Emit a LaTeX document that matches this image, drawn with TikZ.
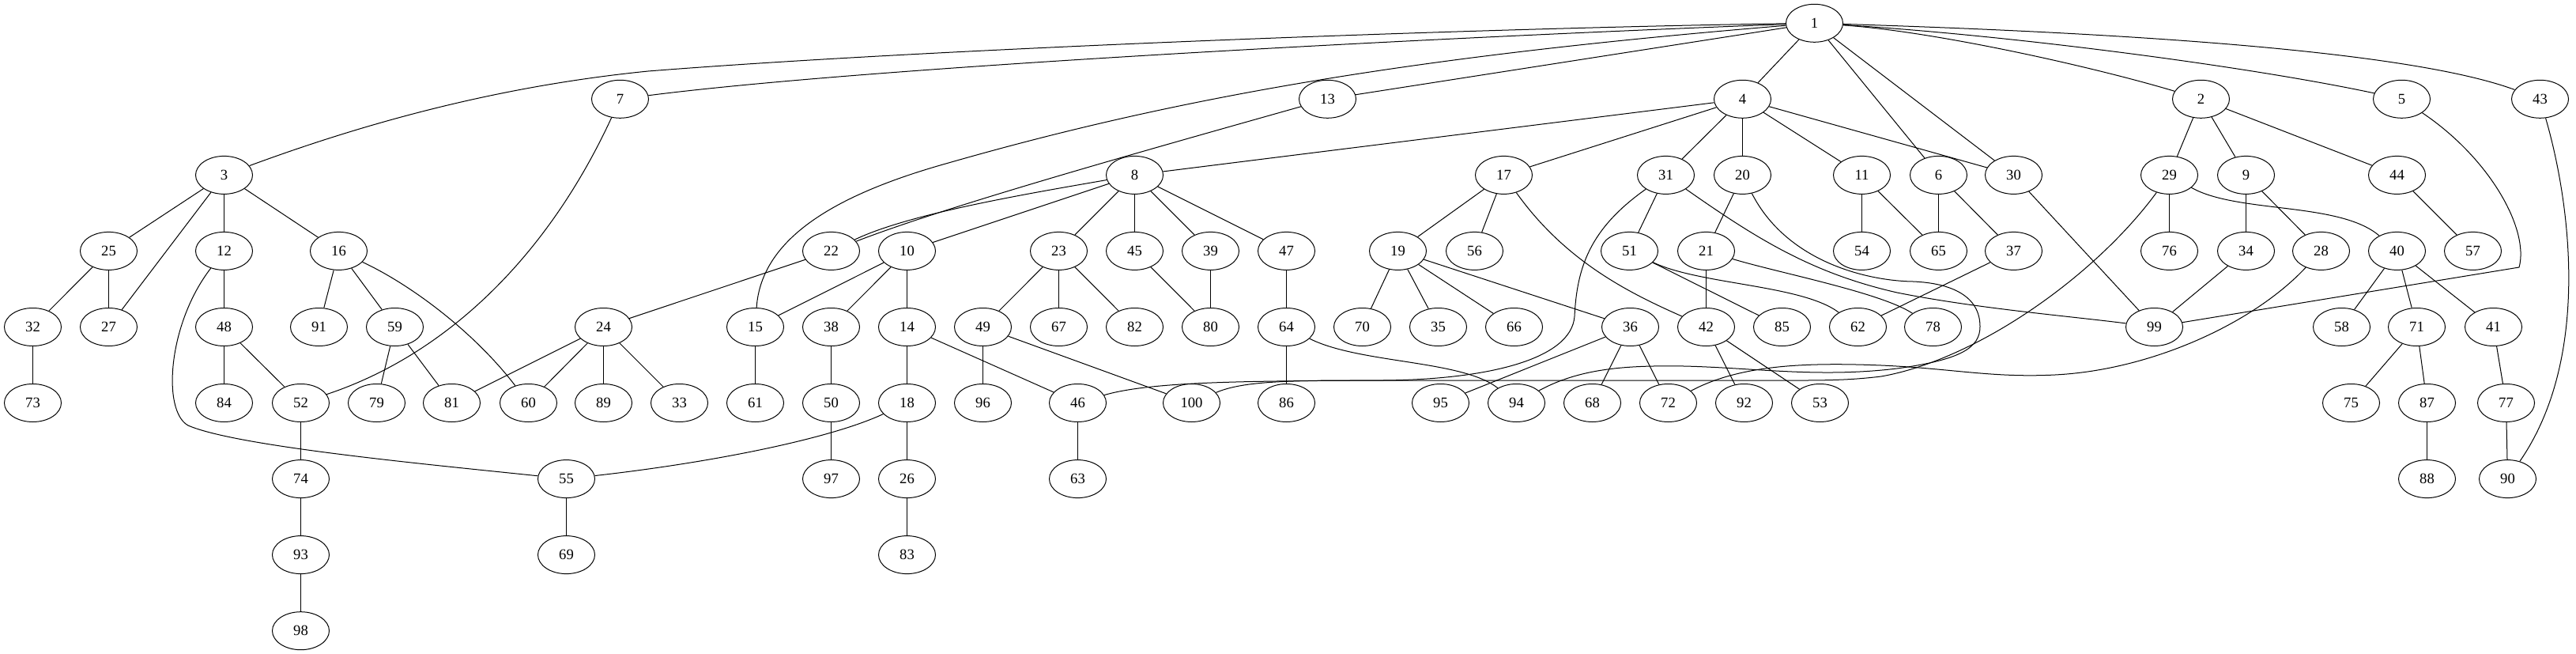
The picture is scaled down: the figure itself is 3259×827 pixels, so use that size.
\documentclass[tikz,border=0pt]{standalone}
\usepackage{fontspec}
\setmainfont{Liberation Serif}
\usetikzlibrary{shapes.geometric}
\begin{document}
\begin{tikzpicture}[x=0.75pt,y=-0.75pt,
  nd/.style={draw,ellipse,minimum width=54pt,minimum height=36pt,inner sep=0pt,font=\fontsize{14}{16}\selectfont,line width=0.75pt},
  ed/.style={line width=0.75pt}]
\useasboundingbox (0,0) rectangle (3259,827);
% rank 0
\node[nd] (n1) at (2295.5,29.3) {1};
% rank 1
\foreach \n/\x in {7/784.5,13/1679.5,4/2204.5,2/2784.5,5/3038.5,43/3213.5}
  \node[nd] (n\n) at (\x,125.3) {\n};
% rank 2
\foreach \n/\x in {3/283.5,8/1435.5,17/1902.5,31/2107.5,20/2204.5,11/2355.5,6/2452.5,30/2547.5,29/2744.5,9/2841.5,44/3032.5}
  \node[nd] (n\n) at (\x,221.4) {\n};
% rank 3
\foreach \n/\x in {25/137.5,12/283.5,16/428.5,22/1051.5,10/1147.5,23/1339.5,45/1435.5,39/1531.5,47/1627.5,19/1768.5,56/1865.5,51/2061.5,21/2158.5,54/2355.5,65/2452.5,37/2547.5,76/2744.5,34/2841.5,28/2936.5,40/3032.5,57/3128.5}
  \node[nd] (n\n) at (\x,317.4) {\n};
% rank 4
\foreach \n/\x in {32/41.5,27/137.5,48/283.5,91/403.5,59/499.5,24/763.5,15/955.5,38/1051.5,14/1147.5,49/1243.5,67/1339.5,82/1435.5,80/1531.5,64/1627.5,70/1723.5,35/1819.5,66/1915.5,36/2062.5,42/2158.5,85/2254.5,62/2350.5,78/2445.5,99/2725.5,58/2962.5,71/3057.5,41/3154.5}
  \node[nd] (n\n) at (\x,413.5) {\n};
% rank 5
\foreach \n/\x in {73/41.5,84/283.5,52/380.5,79/476.5,81/571.5,60/668.5,89/763.5,33/859.5,61/955.5,50/1051.5,18/1147.5,96/1243.5,46/1363.5,100/1507.5,86/1627.5,95/1822.5,94/1918.5,68/2014.5,72/2110.5,92/2206.5,53/2302.5,75/2974.5,87/3070.5,77/3170.5}
  \node[nd] (n\n) at (\x,509.5) {\n};
% rank 6
\foreach \n/\x in {74/380.5,55/716.5,97/1051.5,26/1147.5,63/1363.5,88/3070.5,90/3172.5}
  \node[nd] (n\n) at (\x,605.6) {\n};
% rank 7
\foreach \n/\x in {93/380.5,69/716.5,83/1147.5}
  \node[nd] (n\n) at (\x,701.6) {\n};
% rank 8
\node[nd] (n98) at (380.5,797.7) {98};

% straight edges
\foreach \a/\b in {1/4,1/6,1/30,1/13,
  3/25,3/27,3/12,3/16,25/32,25/27,12/48,16/91,16/59,32/73,48/84,48/52,59/79,59/81,
  24/81,24/60,24/89,24/33,22/24,52/74,74/93,93/98,55/69,
  4/8,4/17,4/31,4/20,4/11,4/30,
  8/10,8/23,8/45,8/39,8/47,
  10/15,10/38,10/14,23/49,23/67,23/82,45/80,39/80,
  15/61,38/50,50/97,14/18,14/46,49/96,49/100,18/26,26/83,46/63,
  47/64,64/86,
  17/19,17/56,19/70,19/35,19/66,19/36,36/95,36/68,36/72,
  31/51,20/21,21/42,42/92,42/53,51/85,11/54,11/65,6/65,6/37,37/62,30/99,
  2/29,2/9,2/44,29/76,9/34,9/28,34/99,44/57,40/58,40/71,40/41,71/75,71/87,87/88,41/77,77/90}
  \draw[ed] (n\a) -- (n\b);

% curved edges
\draw[ed] (n3) .. controls (450,160) and (620,110) .. (820,90) .. controls (1200,60) and (1900,35) .. (n1);
\draw[ed] (n7) .. controls (1100,85) and (1800,48) .. (n1);
\draw[ed] (n15) .. controls (963,300) and (1060,245) .. (1200,206) .. controls (1500,120) and (1800,70) .. (n1);
\draw[ed] (n13) .. controls (1450,190) and (1200,260) .. (n22);
\draw[ed] (n8) .. controls (1300,245) and (1150,270) .. (n22);
\draw[ed] (n12) .. controls (212,410) and (205,520) .. (238,538) .. controls (300,565) and (550,588) .. (n55);
\draw[ed] (n18) .. controls (1050,555) and (900,585) .. (n55);
\draw[ed] (n7) .. controls (690,330) and (560,450) .. (n52);
\draw[ed] (n16) .. controls (520,360) and (600,420) .. (n60);
\draw[ed] (n5) .. controls (3150,200) and (3200,290) .. (3187,338) -- (n99);
\draw[ed] (n43) .. controls (3250,250) and (3280,450) .. (n90);
\draw[ed] (n29) .. controls (2830,270) and (2960,255) .. (n40);
\draw[ed] (n1) .. controls (2450,40) and (2650,85) .. (n2);
\draw[ed] (n1) .. controls (2550,45) and (2850,85) .. (n5);
\draw[ed] (n1) .. controls (2700,42) and (3050,65) .. (n43);
\draw[ed] (n17) .. controls (1980,330) and (2060,370) .. (n42);
\draw[ed] (n64) .. controls (1720,460) and (1850,455) .. (n94);
\draw[ed] (n31) .. controls (2220,300) and (2290,345) .. (2400,370) .. controls (2500,390) and (2620,400) .. (n99);
\draw[ed] (n21) .. controls (2250,345) and (2380,370) .. (n78);
\draw[ed] (n51) .. controls (2150,360) and (2280,360) .. (n62);
\draw[ed] (n31) .. controls (2010,290) and (1995,340) .. (1992,400) .. controls (1988,455) and (1880,480) .. (1750,481) .. controls (1600,482) and (1460,481) .. (n46);
\draw[ed] (n100) .. controls (1570,483) and (1620,481) .. (1720,481) -- (2200,481) .. controls (2300,481) and (2330,482) .. (2380,476) .. controls (2500,455) and (2650,350) .. (n29);
\draw[ed] (n94) .. controls (2000,465) and (2060,462) .. (2130,463) .. controls (2220,465) and (2300,478) .. (2400,466) .. controls (2480,455) and (2505,440) .. (2505,413) .. controls (2505,375) and (2470,358) .. (2420,356) .. controls (2360,355) and (2260,330) .. (n20);
\draw[ed] (n72) .. controls (2200,462) and (2280,458) .. (2380,462) .. controls (2470,466) and (2520,478) .. (2600,474) .. controls (2720,468) and (2850,410) .. (n28);
\end{tikzpicture}
\end{document}
